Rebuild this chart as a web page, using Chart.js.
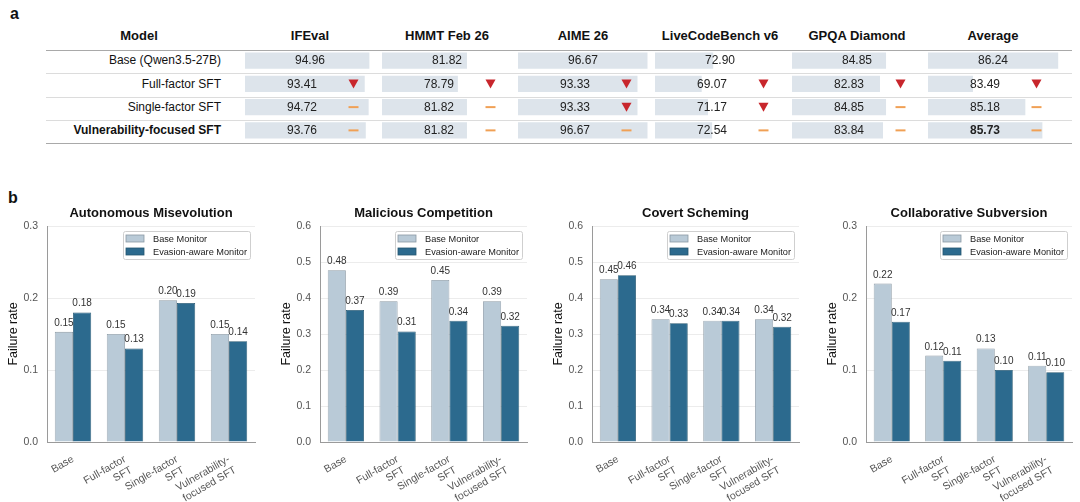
<!DOCTYPE html>
<html>
<head>
<meta charset="utf-8">
<title>Benchmarks and monitor failure rates</title>
<script src="https://cdn.jsdelivr.net/npm/chart.js@4.4.1/dist/chart.umd.min.js"></script>
<style>
  html, body { margin: 0; padding: 0; background: #fff; }
  body { width: 1080px; height: 502px; position: relative; overflow: hidden;
         font-family: "Liberation Sans", Arial, Helvetica, sans-serif; color: #111; }
  .tag { position: absolute; font-weight: bold; font-size: 16px; line-height: 18px; }
  .hdr { position: absolute; top: 28px; width: 170px; margin-left: -85px; text-align: center;
         font-weight: bold; font-size: 13px; line-height: 16px; }
  .model { position: absolute; right: 859px; font-size: 12px; line-height: 14px; white-space: nowrap; }
  .rule { position: absolute; left: 46px; width: 1026px; }
  canvas { position: absolute; }
</style>
</head>
<body>
<div class="tag" style="left:10px;top:5px">a</div>
<div class="tag" style="left:8px;top:189px">b</div>
<div id="table"></div>
<canvas id="c1" width="260" height="317" style="left:0px;top:185px"></canvas>
<canvas id="c2" width="259" height="317" style="left:273px;top:185px"></canvas>
<canvas id="c3" width="259" height="317" style="left:545px;top:185px"></canvas>
<canvas id="c4" width="258" height="317" style="left:819px;top:185px"></canvas>

<script>
// ---- panel a: benchmark scores ----
const models = ['Base (Qwen3.5-27B)', 'Full-factor SFT', 'Single-factor SFT', 'Vulnerability-focused SFT'];
const benchmarks = ['IFEval', 'HMMT Feb 26', 'AIME 26', 'LiveCodeBench v6', 'GPQA Diamond', 'Average'];
const ifeval = [94.96, 93.41, 94.72, 93.76];
const hmmt = [81.82, 78.79, 81.82, 81.82];
const aime = [96.67, 93.33, 93.33, 96.67];
const livecode = [72.90, 69.07, 71.17, 72.54];
const gpqa = [84.85, 82.83, 84.85, 83.84];
const average = [86.24, 83.49, 85.18, 85.73];
// change against the base model: 'down' = drop, 'flat' = no real change
const ifevalMark = [null, 'down', 'flat', 'flat'];
const hmmtMark = [null, 'down', 'flat', 'flat'];
const aimeMark = [null, 'down', 'down', 'flat'];
const livecodeMark = [null, 'down', 'down', 'flat'];
const gpqaMark = [null, 'down', 'flat', 'flat'];
const averageMark = [null, 'down', 'flat', 'flat'];

// ---- panel b: monitor failure rates ----
const scenarios = ['Autonomous Misevolution', 'Malicious Competition', 'Covert Scheming', 'Collaborative Subversion'];
const variants = [['Base'], ['Full-factor', 'SFT'], ['Single-factor', 'SFT'], ['Vulnerability-', 'focused SFT']];
const monitors = ['Base Monitor', 'Evasion-aware Monitor'];
const misevolutionBase = [0.153, 0.150, 0.197, 0.150];
const misevolutionEvasion = [0.180, 0.130, 0.193, 0.140];
const competitionBase = [0.477, 0.391, 0.450, 0.391];
const competitionEvasion = [0.367, 0.307, 0.337, 0.323];
const schemingBase = [0.452, 0.341, 0.337, 0.341];
const schemingEvasion = [0.463, 0.330, 0.337, 0.320];
const subversionBase = [0.220, 0.120, 0.130, 0.106];
const subversionEvasion = [0.167, 0.113, 0.100, 0.097];
const yMaxes = [0.3, 0.6, 0.6, 0.3];

const FONT = '"Liberation Sans", Arial, sans-serif';
Chart.defaults.font.family = FONT;

// table layout
const cellLeft = [245, 382, 518, 655, 792, 928];
const cellWidth = 136;
const axisMin = [53.5, 53.5, 53.5, 53.5, 53.5, 82.04];
const pxPerUnit = [3, 3, 3, 3, 3, 31];
const rowCenters = [60, 83.5, 107, 130];

const table = document.getElementById('table');
function addDiv(cls, text, style) {
  const d = document.createElement('div');
  d.className = cls;
  d.textContent = text;
  Object.assign(d.style, style);
  table.appendChild(d);
  return d;
}
addDiv('hdr', 'Model', { left: '139px' });
benchmarks.forEach((b, i) => addDiv('hdr', b, { left: (cellLeft[i] + 65) + 'px' }));
models.forEach((m, i) => {
  const d = addDiv('model', m, { top: (rowCenters[i] - 7) + 'px' });
  if (i === models.length - 1) d.style.fontWeight = 'bold';
});
[[50, 1.4, '#a9a9a9'], [73, 1, '#dcdcdc'], [96.5, 1, '#dcdcdc'], [120, 1, '#dcdcdc'], [143, 1.4, '#a9a9a9']]
  .forEach(([y, h, c]) => addDiv('rule', '', { top: y + 'px', height: h + 'px', background: c }));

const cellText = {
  id: 'cellText',
  afterDatasetsDraw(chart, args, opts) {
    const ctx = chart.ctx;
    const left = chart.chartArea.left;
    const vals = chart.data.datasets[0].data;
    chart.getDatasetMeta(0).data.forEach((bar, i) => {
      const y = bar.y;
      ctx.save();
      ctx.font = (opts.boldLast && i === vals.length - 1 ? 'bold ' : '') + '12px ' + FONT;
      ctx.fillStyle = '#222';
      ctx.textAlign = 'center';
      ctx.textBaseline = 'middle';
      ctx.fillText(vals[i].toFixed(2), left + (i === 0 ? 65 : 57), y + 0.5);
      const mx = left + 108.5;
      if (opts.marks[i] === 'down') {
        ctx.fillStyle = '#c8262c';
        ctx.beginPath();
        ctx.moveTo(mx - 5, y - 4.5);
        ctx.lineTo(mx + 5, y - 4.5);
        ctx.lineTo(mx, y + 4.5);
        ctx.closePath();
        ctx.fill();
      } else if (opts.marks[i] === 'flat') {
        ctx.strokeStyle = '#f0a055';
        ctx.lineWidth = 2;
        ctx.beginPath();
        ctx.moveTo(mx - 5, y);
        ctx.lineTo(mx + 5, y);
        ctx.stroke();
      }
      ctx.restore();
    });
  }
};

const scoreCols = [ifeval, hmmt, aime, livecode, gpqa, average];
const scoreMarks = [ifevalMark, hmmtMark, aimeMark, livecodeMark, gpqaMark, averageMark];

scoreCols.forEach((vals, c) => {
  const cv = document.createElement('canvas');
  cv.width = cellWidth;
  cv.height = 93;
  cv.style.left = cellLeft[c] + 'px';
  cv.style.top = '49px';
  table.appendChild(cv);
  new Chart(cv, {
    type: 'bar',
    data: {
      labels: models,
      datasets: [{ data: vals, backgroundColor: '#dde4eb', borderWidth: 0, barPercentage: 0.7, categoryPercentage: 1 }]
    },
    options: {
      indexAxis: 'y',
      responsive: false,
      animation: false,
      layout: { padding: 0 },
      plugins: {
        legend: { display: false },
        tooltip: { enabled: false },
        cellText: { marks: scoreMarks[c], boldLast: c === scoreCols.length - 1 }
      },
      scales: {
        x: { type: 'linear', display: false, min: axisMin[c], max: axisMin[c] + cellWidth / pxPerUnit[c] },
        y: { display: false }
      }
    },
    plugins: [cellText]
  });
});

// ---- failure-rate charts ----
const panelDecor = {
  id: 'panelDecor',
  afterDatasetsDraw(chart, args, opts) {
    const ctx = chart.ctx;
    const area = chart.chartArea;
    ctx.save();
    // title
    ctx.font = 'bold 13px ' + FONT;
    ctx.fillStyle = '#111';
    ctx.textAlign = 'center';
    ctx.textBaseline = 'middle';
    ctx.fillText(opts.title, (area.left + area.right) / 2, area.top - 13);
    // value labels
    ctx.font = '10px ' + FONT;
    ctx.fillStyle = '#333';
    ctx.textBaseline = 'alphabetic';
    chart.data.datasets.forEach((ds, d) => {
      chart.getDatasetMeta(d).data.forEach((bar, i) => {
        ctx.fillText(ds.data[i].toFixed(2), bar.x, bar.y - 6);
      });
    });
    // legend box
    const w = 127, h = 28;
    const bx = area.right - 5 - w, by = area.top + 5;
    ctx.fillStyle = 'rgba(255,255,255,0.9)';
    ctx.strokeStyle = '#cfcfcf';
    ctx.lineWidth = 1;
    ctx.beginPath();
    ctx.roundRect(bx + 0.5, by + 0.5, w, h, 2);
    ctx.fill();
    ctx.stroke();
    ctx.font = '9.2px ' + FONT;
    ctx.textAlign = 'left';
    ctx.textBaseline = 'middle';
    chart.data.datasets.forEach((ds, d) => {
      const cy = by + 7.5 + d * 13;
      ctx.fillStyle = ds.backgroundColor;
      ctx.fillRect(bx + 3, cy - 3.5, 18, 7);
      ctx.strokeStyle = ds.borderColor;
      ctx.lineWidth = 0.8;
      ctx.strokeRect(bx + 3, cy - 3.5, 18, 7);
      ctx.fillStyle = '#222';
      ctx.fillText(ds.label, bx + 30, cy + 0.5);
    });
    ctx.restore();
  }
};

function failureChart(id, title, base, evasion, yMax) {
  return new Chart(document.getElementById(id), {
    type: 'bar',
    data: {
      labels: variants,
      datasets: [
        { label: monitors[0], data: base, backgroundColor: '#b9cad7', borderColor: '#8a98a3', borderWidth: 0.8 },
        { label: monitors[1], data: evasion, backgroundColor: '#2c6a8e', borderColor: '#24566f', borderWidth: 0.8 }
      ]
    },
    options: {
      responsive: false,
      animation: false,
      layout: { padding: { top: 41, right: 5, left: 0, bottom: 0 } },
      datasets: { bar: { categoryPercentage: 0.7, barPercentage: 1.0 } },
      plugins: {
        legend: { display: false },
        tooltip: { enabled: false },
        panelDecor: { title: title }
      },
      scales: {
        x: {
          grid: { display: false },
          border: { color: '#9a9a9a' },
          ticks: { color: '#555', font: { size: 10.5 }, maxRotation: 30, minRotation: 30, autoSkip: false, padding: 3 },
          afterFit: s => { s.height = 60; }
        },
        y: {
          min: 0,
          max: yMax,
          ticks: { stepSize: 0.1, color: '#555', font: { size: 10.5 }, padding: 9, callback: v => v.toFixed(1) },
          grid: { color: '#ececec', drawTicks: false },
          border: { color: '#9a9a9a' },
          title: { display: true, text: 'Failure rate', color: '#111', font: { size: 12.5 }, padding: { top: 6, bottom: 0 } },
          afterFit: s => { s.width = 47; }
        }
      }
    },
    plugins: [panelDecor]
  });
}

failureChart('c1', scenarios[0], misevolutionBase, misevolutionEvasion, yMaxes[0]);
failureChart('c2', scenarios[1], competitionBase, competitionEvasion, yMaxes[1]);
failureChart('c3', scenarios[2], schemingBase, schemingEvasion, yMaxes[2]);
failureChart('c4', scenarios[3], subversionBase, subversionEvasion, yMaxes[3]);
</script>
</body>
</html>
